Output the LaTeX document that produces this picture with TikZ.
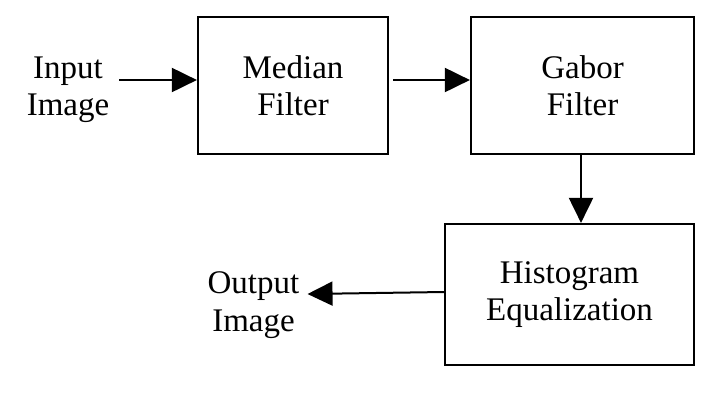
\documentclass[tikz,border=0pt]{standalone}
\usepackage{fontspec}
\setmainfont{Liberation Serif}
\usetikzlibrary{arrows.meta}
\begin{document}
\begin{tikzpicture}[x=1pt,y=-1pt,
  box/.style={draw=black,line width=2.2pt,inner sep=0pt,align=center,font=\fontsize{33}{37.5}\selectfont},
  lbl/.style={inner sep=0pt,align=center,font=\fontsize{33}{37.5}\selectfont},
  arr/.style={line width=2pt,-{Triangle[length=25pt,width=24pt]}}]
\useasboundingbox[fill=white] (0,0) rectangle (723,397);
\node[box,minimum width=190pt,minimum height=137pt] (med) at (293,85.5) {Median\\Filter};
\node[box,minimum width=223pt,minimum height=137pt] (gab) at (582.5,85.5) {Gabor\\Filter};
\node[box,minimum width=249pt,minimum height=141pt] (his) at (569.5,294.5) {Histogram\\Equalization};
\node[lbl] (in) at (68,90) {Input\\Image};
\node[lbl] (out) at (253.5,305) {Output\\Image};
\draw[arr] ([xshift=10pt,yshift=10pt]in.east) -- ([yshift=5.5pt]med.west);
\draw[arr] ([xshift=4pt,yshift=5.5pt]med.east) -- ([yshift=5.5pt]gab.west);
\draw[arr] ([xshift=-1.5pt]gab.south) -- ([xshift=-1.5pt]gab.south |- his.north);
\draw[arr] ([yshift=2.5pt]his.west) -- ([xshift=8pt,yshift=11pt]out.east);
\end{tikzpicture}
\end{document}
